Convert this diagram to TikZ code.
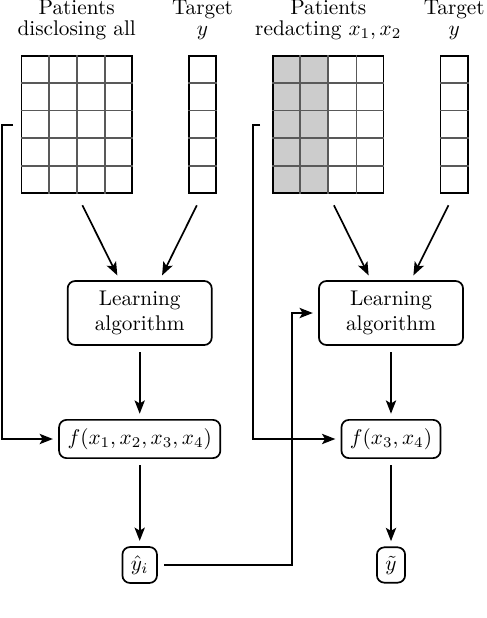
\documentclass[tikz,border=0pt]{standalone}
\usepackage{amsmath}
\usetikzlibrary{arrows.meta,positioning,calc,backgrounds}
\tikzset{
  >={Stealth[length=2.2mm,width=1.7mm,inset=0.5mm]},
  box/.style    ={draw,thick,rounded corners=3.5pt,align=center,inner sep=4pt},
  learnbox/.style={box,minimum width=67.8pt,minimum height=30.1pt},
  table/.style  ={draw,thick,inner sep=0pt,minimum width=52pt,minimum height=64.6pt},
  column/.style ={draw,thick,inner sep=0pt,minimum width=12.8pt,minimum height=64.6pt},
  cell/.style   ={draw=black!65,thick},
  title/.style  ={align=center,inner sep=0pt,font={\fontsize{10}{9.7}\selectfont}},
  flow/.style   ={->,thick,shorten >=2.5pt,shorten <=3pt},
  link/.style   ={->,thick,shorten >=2.5pt},
}

\begin{document}
\begin{tikzpicture}[x=0.4706pt,y=-0.4706pt]
\useasboundingbox (0,0) rectangle (486,618);
% data tables
\node[table]  (dataL) at (76.7,124.4) {};
\node[column] (tgtL)  at (202.5,124.4) {};
\node[table]  (dataR) at (328.3,124.4) {};
\node[column] (tgtR)  at (454.2,124.4) {};
\begin{scope}[on background layer]
\fill[black!20] (dataR.north west) rectangle ($(dataR.south west)!0.5!(dataR.south east)$);
\end{scope}
\foreach \t in {dataL,dataR} {
  \foreach \k in {1,2,3}
    \draw[cell] ($(\t.north west)!\k/4!(\t.north east)$) -- ($(\t.south west)!\k/4!(\t.south east)$);
}
\foreach \t in {dataL,tgtL,dataR,tgtR} {
  \foreach \k in {1,...,4}
    \draw[cell] ($(\t.north west)!\k/5!(\t.south west)$) -- ($(\t.north east)!\k/5!(\t.south east)$);
}
% titles
\node[title,above=7pt of dataL] {Patients\\disclosing all};
\node[title,above=7pt of tgtL]  {Target\\$y$};
\node[title,above=7pt of dataR] {Patients\\redacting $x_1,x_2$};
\node[title,above=7pt of tgtR]  {Target\\$y$};
% models
\node[learnbox] (learnL) at (139.7,313) {Learning\\algorithm};
\node[learnbox] (learnR) at (391,313) {Learning\\algorithm};
\node[box] (fL) at (139.7,439) {$f(x_1,x_2,x_3,x_4)$};
\node[box] (fR) at (391,439) {$f(x_3,x_4)$};
\node[box] (yhat)   at (139.7,565) {$\hat{y}_i$};
\node[box] (ytilde) at (391,565) {$\tilde{y}$};
% free ends of the side lines
\coordinate (tapL) at (13,125);
\coordinate (tapR) at (260,125);
% arrows
\draw[flow,shorten <=6pt] (dataL.south) -- ($(learnL.north)+(-20,0)$);
\draw[flow,shorten <=6pt] (tgtL.south)  -- ($(learnL.north)+(20,0)$);
\draw[flow,shorten <=6pt] (dataR.south) -- ($(learnR.north)+(-20,0)$);
\draw[flow,shorten <=6pt] (tgtR.south)  -- ($(learnR.north)+(20,0)$);
\draw[flow] (learnL) -- (fL);
\draw[flow] (learnR) -- (fR);
\draw[flow] (fL) -- (yhat);
\draw[flow] (fR) -- (ytilde);
\draw[link] (tapL) -- ++(-11,0) |- (fL.west);
\draw[link] (tapR) -- ++(-7,0) |- (fR.west);
\draw[flow] (yhat.east) -- ++(134,0) |- (learnR.west);
\end{tikzpicture}
\end{document}
